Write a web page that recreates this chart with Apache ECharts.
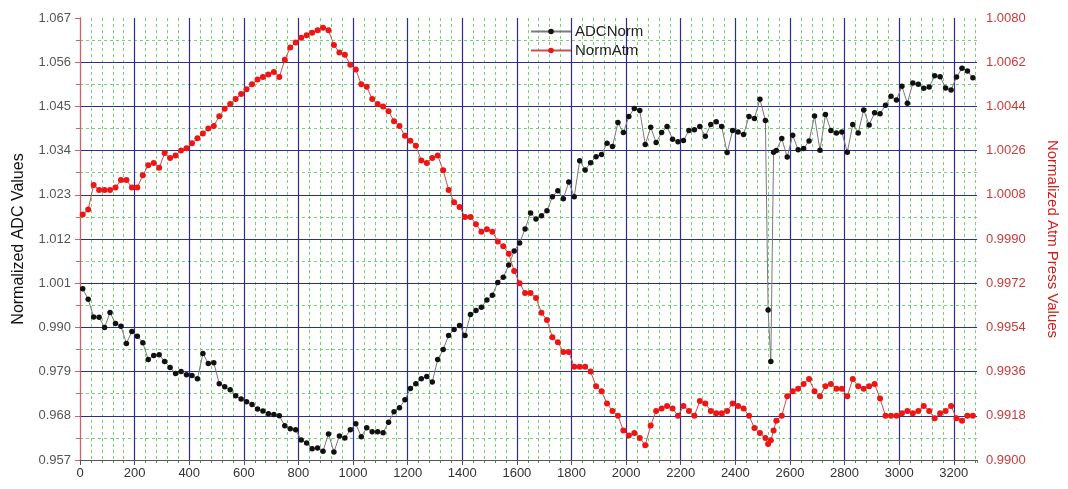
<!DOCTYPE html>
<html>
<head>
<meta charset="utf-8">
<script src="https://cdn.jsdelivr.net/npm/echarts@6/dist/echarts.min.js"></script>
<style>
  html, body { margin: 0; padding: 0; background: #fff; }
  #chart { width: 1068px; height: 489px; }
</style>
</head>
<body>
<div id="chart"></div>
<script>
// sample positions (x axis), shared by both series
const xs = [
  10, 30, 50, 70, 90, 110, 130, 150, 170, 190,
  210, 230, 250, 270, 290, 310, 330, 350, 370, 390,
  410, 430, 450, 470, 490, 510, 530, 550, 570, 590,
  610, 630, 650, 670, 690, 710, 730, 750, 770, 790,
  810, 830, 850, 870, 890, 910, 930, 950, 970, 990,
  1010, 1030, 1050, 1070, 1090, 1110, 1130, 1150, 1170, 1190,
  1210, 1230, 1250, 1270, 1290, 1310, 1330, 1350, 1370, 1390,
  1410, 1430, 1450, 1470, 1490, 1510, 1530, 1550, 1570, 1590,
  1610, 1630, 1650, 1670, 1690, 1710, 1730, 1750, 1770, 1790,
  1810, 1830, 1850, 1870, 1890, 1910, 1930, 1950, 1970, 1990,
  2010, 2030, 2050, 2070, 2090, 2110, 2130, 2150, 2170, 2190,
  2210, 2230, 2250, 2270, 2290, 2310, 2330, 2350, 2370, 2390,
  2410, 2430, 2450, 2470, 2490, 2510, 2520, 2530, 2540, 2550,
  2570, 2590, 2610, 2630, 2650, 2670, 2690, 2710, 2730, 2750,
  2770, 2790, 2810, 2830, 2850, 2870, 2890, 2910, 2930, 2950,
  2970, 2990, 3010, 3030, 3050, 3070, 3090, 3110, 3130, 3150,
  3170, 3190, 3210, 3230, 3250, 3270
]

// ADCNorm (left axis)
const adcNorm = [
  0.9996, 0.9970, 0.9926, 0.9925, 0.9900, 0.9937, 0.9910, 0.9903, 0.9860, 0.9890,
  0.9878, 0.9862, 0.9820, 0.9830, 0.9832, 0.9815, 0.9800, 0.9785, 0.9790, 0.9782,
  0.9780, 0.9772, 0.9835, 0.9810, 0.9812, 0.9760, 0.9752, 0.9745, 0.9730, 0.9722,
  0.9715, 0.9708, 0.9697, 0.9692, 0.9685, 0.9683, 0.9680, 0.9655, 0.9648, 0.9645,
  0.9620, 0.9612, 0.9598, 0.9600, 0.9592, 0.9635, 0.9590, 0.9630, 0.9625, 0.9645,
  0.9660, 0.9628, 0.9650, 0.9640, 0.9640, 0.9638, 0.9664, 0.9690, 0.9700, 0.9720,
  0.9748, 0.9760, 0.9772, 0.9778, 0.9764, 0.9820, 0.9845, 0.9880, 0.9895, 0.9905,
  0.9880, 0.9932, 0.9942, 0.9950, 0.9968, 0.9980, 1.0012, 1.0025, 1.0055, 1.0090,
  1.0110, 1.0145, 1.0185, 1.0170, 1.0178, 1.0190, 1.0225, 1.0240, 1.0220, 1.0262,
  1.0225, 1.0315, 1.0292, 1.0310, 1.0325, 1.0330, 1.0358, 1.0350, 1.0410, 1.0385,
  1.0425, 1.0445, 1.0440, 1.0355, 1.0398, 1.0360, 1.0385, 1.0400, 1.0368, 1.0362,
  1.0365, 1.0390, 1.0392, 1.0400, 1.0376, 1.0405, 1.0412, 1.0400, 1.0335, 1.0390,
  1.0386, 1.0380, 1.0425, 1.0420, 1.0468, 1.0415, 0.9943, 0.9815, 1.0336, 1.0340,
  1.0370, 1.0324, 1.0378, 1.0342, 1.0345, 1.0364, 1.0426, 1.0341, 1.0430, 1.0390,
  1.0384, 1.0386, 1.0336, 1.0405, 1.0384, 1.0441, 1.0404, 1.0434, 1.0432, 1.0453,
  1.0475, 1.0466, 1.0500, 1.0458, 1.0508, 1.0505, 1.0495, 1.0498, 1.0526, 1.0524,
  1.0496, 1.0491, 1.0523, 1.0545, 1.0538, 1.0521
]

// NormAtm (right axis)
const normAtm = [
  1.0000, 1.0002, 1.0012, 1.0010, 1.0010, 1.0010, 1.0011, 1.0014, 1.0014, 1.0011,
  1.0011, 1.0016, 1.0020, 1.0021, 1.0019, 1.0025, 1.0023, 1.0024, 1.0026, 1.0027,
  1.0029, 1.0031, 1.0033, 1.0035, 1.0036, 1.0040, 1.0043, 1.0045, 1.0047, 1.0049,
  1.0051, 1.0053, 1.0055, 1.0056, 1.0057, 1.0058, 1.0056, 1.0063, 1.0068, 1.0070,
  1.0072, 1.0073, 1.0074, 1.0075, 1.0076, 1.0075, 1.0069, 1.0066, 1.0065, 1.0061,
  1.0059, 1.0053, 1.0052, 1.0047, 1.0045, 1.0044, 1.0042, 1.0038, 1.0036, 1.0032,
  1.0030, 1.0028, 1.0022, 1.0021, 1.0023, 1.0024, 1.0018, 1.0010, 1.0005, 1.0003,
  0.9999, 0.9999, 0.9996, 0.9993, 0.9994, 0.9993, 0.9989, 0.9987, 0.9984, 0.9977,
  0.9972, 0.9968, 0.9968, 0.9966, 0.9960, 0.9957, 0.9950, 0.9948, 0.9944, 0.9944,
  0.9938, 0.9938, 0.9938, 0.9936, 0.9930, 0.9928, 0.9923, 0.9920, 0.9918, 0.9912,
  0.9910, 0.9911, 0.9909, 0.9906, 0.9914, 0.9920, 0.9921, 0.9922, 0.9921, 0.9918,
  0.9922, 0.9920, 0.9918, 0.9924, 0.9923, 0.9920, 0.9919, 0.9919, 0.9920, 0.9923,
  0.9922, 0.9921, 0.9918, 0.9913, 0.9911, 0.9909, 0.99065, 0.9908, 0.9912, 0.9916,
  0.9918, 0.9926, 0.9928, 0.9929, 0.9931, 0.9933, 0.9928, 0.9926, 0.9930, 0.9931,
  0.9929, 0.9929, 0.9926, 0.9933, 0.9930, 0.9929, 0.9930, 0.9931, 0.9925, 0.9918,
  0.9918, 0.9918, 0.9919, 0.9920, 0.9919, 0.9920, 0.9922, 0.9920, 0.9917, 0.9919,
  0.9920, 0.9922, 0.9917, 0.9916, 0.9918, 0.9918
]

const FONT = 'Liberation Sans, Arial, sans-serif'
const NAVY = '#2e2e8a'
const GREEN = '#74d274'

const chart = echarts.init( document.getElementById( 'chart' ) )

chart.setOption( {
  backgroundColor : '#ffffff',
  animation : false,
  textStyle : { fontFamily : FONT },
  grid : { left : 80, right : 90, top : 18, bottom : 29, containLabel : false },
  legend : {
    orient : 'vertical',
    left : 525,
    top : 19,
    itemWidth : 40,
    itemHeight : 7,
    itemGap : 4,
    textStyle : { fontSize : 15, color : '#222', fontFamily : FONT, padding : [0, 0, 0, -1] },
    data : ['ADCNorm', 'NormAtm']
  },
  xAxis : [
    {
      type : 'value',
      position : 'bottom',
      min : 0,
      max : 3285,
      interval : 200,
      z : 1,
      axisLine : { show : true, onZero : false, lineStyle : { color : '#555' } },
      axisTick : { show : true, length : 5, lineStyle : { color : '#555' } },
      axisLabel : {
        color : '#333',
        fontSize : 13,
        margin : 7,
        showMaxLabel : false,
        fontFamily : FONT,
        formatter : ( v ) => String( v )
      },
      splitLine : { show : true, showMaxLine : false, lineStyle : { color : NAVY, width : 1.2 } }
    },
    {
      // finer vertical grid, every 40
      type : 'value',
      position : 'bottom',
      min : 0,
      max : 3285,
      interval : 40,
      z : 0,
      axisLine : { show : false },
      axisTick : { show : true, length : 3, lineStyle : { color : '#777' } },
      axisLabel : { show : false },
      splitLine : { show : true, showMaxLine : false, lineStyle : { color : GREEN, width : 1, type : [3, 3] } }
    }
  ],
  yAxis : [
    {
      type : 'value',
      position : 'left',
      min : 0.957,
      max : 1.067,
      interval : 0.011,
      z : 1,
      name : 'Normalized ADC Values',
      nameLocation : 'middle',
      nameRotate : 90,
      nameGap : 53,
      nameTextStyle : { fontSize : 16, color : '#111', fontFamily : FONT },
      axisLine : { show : true, lineStyle : { color : '#555' } },
      axisTick : { show : true, length : 5, lineStyle : { color : '#555' } },
      minorTick : { show : true, splitNumber : 2, length : 4, lineStyle : { color : '#555' } },
      axisLabel : {
        color : '#555',
        fontSize : 13,
        margin : 9,
        fontFamily : FONT,
        formatter : ( v ) => v.toFixed( 3 )
      },
      splitLine : { show : true, showMaxLine : false, lineStyle : { color : NAVY, width : 1.2 } },
      minorSplitLine : { show : true, lineStyle : { color : GREEN, width : 1, type : [3, 3] } }
    },
    {
      type : 'value',
      position : 'right',
      min : 0.99,
      max : 1.008,
      interval : 0.0018,
      z : 1,
      name : 'Normalized Atm Press Values',
      nameLocation : 'middle',
      nameRotate : -90,
      nameGap : 68,
      nameTextStyle : { fontSize : 15, color : '#d41c1c', fontFamily : FONT },
      axisLine : { show : true, lineStyle : { color : '#d46060' } },
      axisTick : { show : true, inside : true, length : 5, lineStyle : { color : '#d46060' } },
      minorTick : { show : true, splitNumber : 2, length : 4, lineStyle : { color : '#d46060' } },
      axisLabel : {
        color : '#cc3a3a',
        fontSize : 13,
        margin : 9,
        fontFamily : FONT,
        formatter : ( v ) => v.toFixed( 4 )
      },
      splitLine : { show : false }
    }
  ],
  series : [
    {
      name : 'ADCNorm',
      type : 'line',
      xAxisIndex : 0,
      yAxisIndex : 0,
      symbol : 'circle',
      symbolSize : 5.5,
      showSymbol : true,
      itemStyle : { color : '#111' },
      lineStyle : { color : '#7a7a7a', width : 1 },
      data : xs.map( ( x, i ) => [x, adcNorm[i]] )
    },
    {
      name : 'NormAtm',
      type : 'line',
      xAxisIndex : 0,
      yAxisIndex : 1,
      symbol : 'circle',
      symbolSize : 6,
      showSymbol : true,
      itemStyle : { color : '#ee1515' },
      lineStyle : { color : '#c85050', width : 1 },
      data : xs.map( ( x, i ) => [x, normAtm[i]] )
    }
  ]
} )
</script>
</body>
</html>
